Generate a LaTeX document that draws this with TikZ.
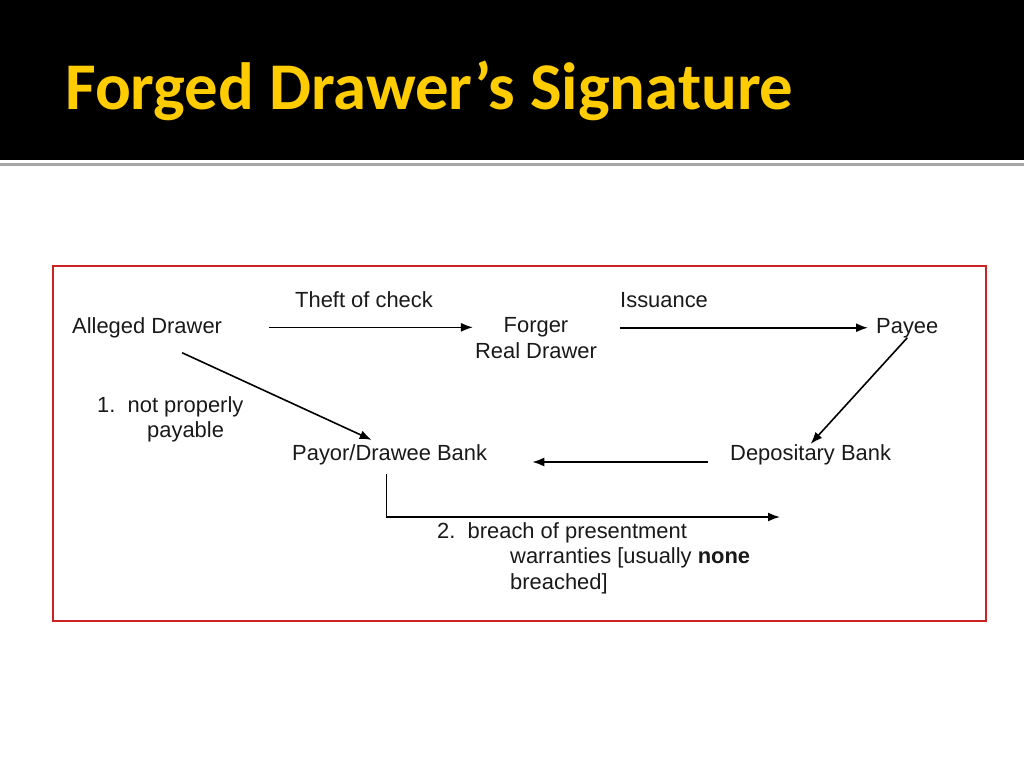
\documentclass[tikz,border=0pt]{standalone}
\usepackage{fontspec}
\setmainfont{Liberation Sans}
\newfontfamily\titlefont{Carlito}
\usetikzlibrary{arrows.meta,calc,positioning}
\definecolor{titlegold}{RGB}{255,204,0}
\definecolor{framered}{RGB}{204,34,34}
\tikzset{
    party/.style={
        inner sep=0pt,
        anchor=base west,
        text=black!90,
        font=\fontsize{22}{26}\selectfont
    },
    flowlabel/.style={
        party,
        anchor=north west,
        align=left
    },
    flow/.style={
        -{Latex[length=12bp,width=9bp]},
        line width=1.6bp
    },
}
\begin{document}
\begin{tikzpicture}[x=1bp, y=-1bp]
    \useasboundingbox (0,0) rectangle (1024,768);
    % header band
    \fill[black] (0,0) rectangle (1024,160);
    \draw[gray!70, line width=3bp] (0,164.5) -- (1024,164.5);
    \node[anchor=base west, inner sep=0pt, text=titlegold, font=\titlefont\bfseries\fontsize{67}{70}\selectfont] (title) at (65,109) {Forged Drawer’s Signature};
    % frame
    \draw[framered, line width=2bp] (53,266) rectangle (986,621);

    % parties
    \node[party] (drawer) at (72,333) {Alleged Drawer};
    \node[party, anchor=north, align=center] (forger) at (536,317) {Forger\\Real Drawer};
    \node[party] (payee) at (876,333) {Payee};
    \node[party] (payor) at (292,460) {Payor/Drawee Bank};
    \node[party] (depo) at (730,460) {Depositary Bank};

    % labels
    \node[party] (theft) at (295,307) {Theft of check};
    \node[party] (issue) at (620,307) {Issuance};
    \node[flowlabel] (payable) at (97,396) {1.\ \ not properly\\\hspace*{50bp}payable};
    \node[flowlabel] (breach) at (437,522) {2.\ \ breach of presentment\\\hspace*{73bp}warranties [usually \textbf{none}\\\hspace*{73bp}breached]};

    % connectors
    \draw[flow, shorten <=47bp, shorten >=2bp] (drawer.east) -- (drawer.east -| forger.west);
    \draw[flow, shorten <=23bp, shorten >=8bp] (payee.west -| forger.east) -- (payee.west);
    \draw[flow] (payee.south) -- (depo.north);
    \draw[flow, shorten <=22bp, shorten >=45bp] ([yshift=-2bp]depo.base west) -- ([yshift=-2bp]payor.base east);
    \draw[flow] ([shift={(35,15)}]drawer.south) -- ([shift={(-18,-4)}]payor.north);
    \coordinate (breachend) at (780,517);
    \draw[flow, shorten <=9.5bp] ([xshift=-3bp]payor.south) |- (breachend);
\end{tikzpicture}
\end{document}
